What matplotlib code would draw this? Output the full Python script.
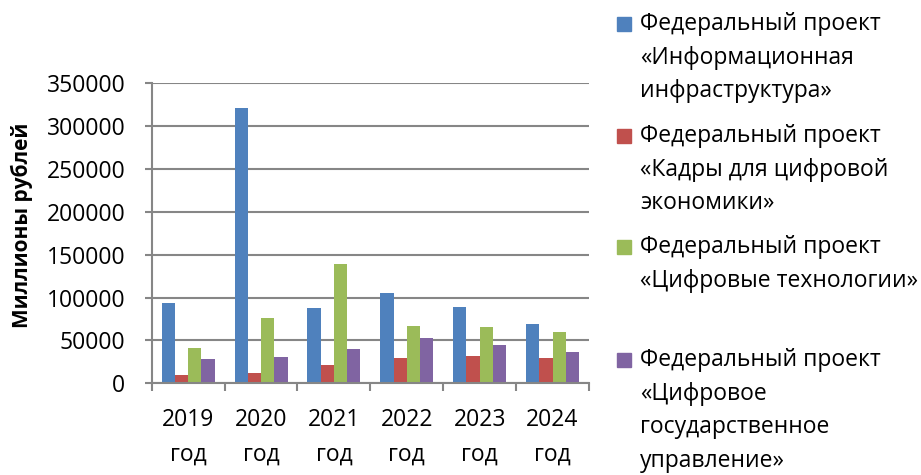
import numpy as np
import matplotlib.pyplot as plt
from matplotlib.patches import Rectangle

plt.rcParams['font.family'] = ['Open Sans', 'DejaVu Sans']

years = ['2019\nгод', '2020\nгод', '2021\nгод', '2022\nгод', '2023\nгод', '2024\nгод']
series_names = [
    'Федеральный проект\n«Информационная\nинфраструктура»',
    'Федеральный проект\n«Кадры для цифровой\nэкономики»',
    'Федеральный проект\n«Цифровые технологии»',
    'Федеральный проект\n«Цифровое\nгосударственное\nуправление»',
]
info_infra = [93300, 320800, 87500, 105400, 89000, 69600]
kadry = [9700, 12400, 21800, 29900, 31500, 29500]
tech = [40800, 76600, 138800, 66500, 65300, 59900]
gos_upr = [28400, 30300, 40000, 52500, 44300, 36500]
colors = ['#4F81BD', '#C0504D', '#9BBB59', '#8064A2']

fig = plt.figure(figsize=(9.21, 4.75), dpi=100)
ax = fig.add_axes([0.1647, 0.193, 0.6395 - 0.1647, 0.8246 - 0.193])

x = np.arange(len(years))
w = 1 / 5.5
for i, vals in enumerate([info_infra, kadry, tech, gos_upr]):
    ax.bar(x + (i - 1.5) * w, vals, width=w, color=colors[i], zorder=3)

grid_c = '#868686'
ax.set_xlim(-0.5, len(years) - 0.5)
ax.set_ylim(0, 350000)
ax.set_yticks(np.arange(0, 350001, 50000))
ax.yaxis.grid(True, color=grid_c, linewidth=1.5, zorder=0)
for s in ['top', 'right']:
    ax.spines[s].set_visible(False)
for s in ['left', 'bottom']:
    ax.spines[s].set_color(grid_c)
    ax.spines[s].set_linewidth(1.5)
    ax.spines[s].set_zorder(4)

ax.set_xticks(np.arange(-0.5, len(years)), minor=False)
ax.set_xticklabels([])
ax.set_xticks(x, minor=True)
ax.set_xticklabels(years, minor=True, fontsize=16.5, linespacing=1.55)
ax.tick_params(axis='x', which='major', length=6, width=1.5, color=grid_c)
ax.tick_params(axis='x', which='minor', length=0, pad=18)
ax.tick_params(axis='y', length=5, width=1.5, color=grid_c, labelsize=16.5, pad=14)

fig.text(22 / 921, 1 - 225 / 475, 'Миллионы рублей', rotation=90, fontsize=15,
         fontweight='bold', ha='center', va='center')

# legend drawn by hand, Excel-like layout
entry_tops = [24, 136, 247, 360]
for name, c, ytop in zip(series_names, colors, entry_tops):
    fig.patches.append(Rectangle((617 / 921, 1 - (ytop + 7) / 475), 14 / 921, 14 / 475,
                                 transform=fig.transFigure, color=c))
    fig.text(640 / 921, 1 - (ytop - 12) / 475, name, fontsize=16.5, va='top', ha='left',
             linespacing=1.53)

fig.savefig('out.png', dpi=100)
